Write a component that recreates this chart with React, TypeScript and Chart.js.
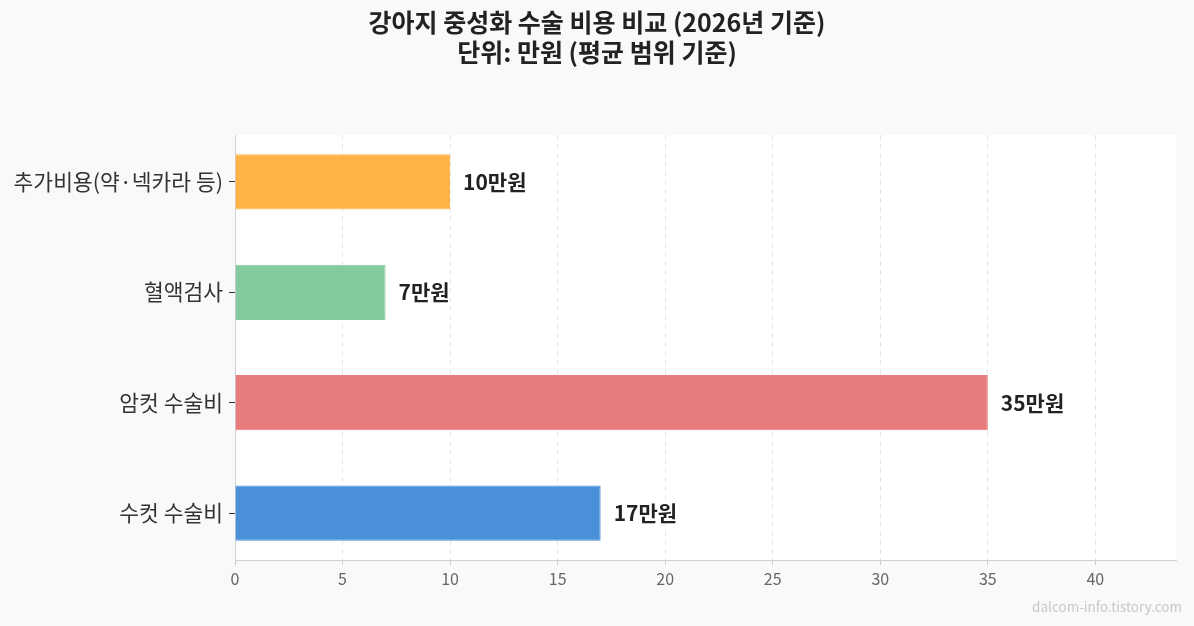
import { useEffect, useRef } from 'react'
import Chart from 'chart.js/auto'

// bottom to top, as in the picture
const categories = ['수컷 수술비', '암컷 수술비', '혈액검사', '추가비용(약·넥카라 등)']
const costs = [17, 35, 7, 10]
const barColors = ['#4A90D9', '#E87C7C', '#85C99E', '#FFB347']
const xTicks = [0, 5, 10, 15, 20, 25, 30, 35, 40]
const titleLines = ['강아지 중성화 수술 비용 비교 (2026년 기준)', '단위: 만원 (평균 범위 기준)']
const watermark = 'dalcom-info.tistory.com'

const FONT = '"Noto Sans CJK KR", "Noto Sans", sans-serif'

const decorPlugin = {
  id: 'decor',
  beforeDraw(chart: any) {
    const { ctx, chartArea, width, height } = chart
    ctx.save()
    ctx.fillStyle = '#f8f9fb'
    ctx.fillRect(0, 0, width, height)
    ctx.fillStyle = '#ffffff'
    ctx.fillRect(chartArea.left, chartArea.top, chartArea.right - chartArea.left, chartArea.bottom - chartArea.top)
    ctx.restore()
  },
  afterDraw(chart: any) {
    const { ctx, width, height } = chart
    ctx.save()
    ctx.fillStyle = '#222222'
    ctx.textAlign = 'center'
    ctx.textBaseline = 'middle'
    ctx.font = `bold 25px ${FONT}`
    ctx.fillText(titleLines[0], width / 2, 22)
    ctx.fillText(titleLines[1], width / 2, 52)

    // value labels
    const xs = chart.scales.x
    const ys = chart.scales.y
    ctx.font = `bold 21px ${FONT}`
    ctx.textAlign = 'left'
    ctx.fillStyle = '#222222'
    costs.forEach((v, i) => {
      ctx.fillText(`${v}만원`, xs.getPixelForValue(v) + 13, ys.getPixelForValue(i))
    })

    ctx.font = `13.5px ${FONT}`
    ctx.fillStyle = '#c8c8c8'
    ctx.textAlign = 'right'
    ctx.fillText(watermark, width - 12, height - 19)
    ctx.restore()
  }
}

export default function App() {
  const canvasRef = useRef<HTMLCanvasElement>(null)
  const chartInstance = useRef<Chart | null>(null)

  useEffect(() => {
    document.body.style.margin = '0'
    if (!canvasRef.current) return
    if (chartInstance.current) chartInstance.current.destroy()

    chartInstance.current = new Chart(canvasRef.current, {
      type: 'bar',
      data: {
        datasets: [
          {
            data: costs.map((v, i) => ({ x: v, y: i })) as any,
            backgroundColor: barColors,
            borderColor: barColors,
            borderWidth: 1,
            categoryPercentage: 1,
            barPercentage: 0.5
          }
        ]
      },
      options: {
        indexAxis: 'y',
        animation: false,
        responsive: false,
        layout: { padding: { top: 135, right: 18, left: 0, bottom: 0 } },
        plugins: {
          legend: { display: false },
          title: { display: false },
          tooltip: { enabled: false }
        },
        scales: {
          x: {
            type: 'linear',
            min: 0,
            max: 43.75,
            afterBuildTicks: (scale: any) => {
              scale.ticks = xTicks.map((v) => ({ value: v }))
            },
            afterFit: (scale: any) => {
              scale.height = 66
            },
            grid: {
              color: '#e6e6e6',
              lineWidth: 1,
              drawTicks: true,
              tickLength: 5,
              tickColor: '#cccccc'
            },
            border: { display: true, color: '#d0d0d0', dash: [5, 4] },
            ticks: {
              color: '#666666',
              padding: 4,
              font: { family: FONT, size: 16 }
            }
          },
          y: {
            type: 'linear',
            offset: false,
            min: -0.425,
            max: 3.425,
            afterBuildTicks: (scale: any) => {
              scale.ticks = categories.map((_, i) => ({ value: i }))
            },
            afterFit: (scale: any) => {
              scale.width = 235
            },
            grid: {
              offset: false,
              drawOnChartArea: false,
              drawTicks: true,
              tickLength: 6,
              tickColor: '#333333'
            },
            border: { display: true, color: '#d0d0d0' },
            ticks: {
              color: '#333333',
              padding: 6,
              font: { family: FONT, size: 21.5 },
              callback: (v: any) => categories[v as number] ?? ''
            }
          }
        }
      },
      plugins: [decorPlugin]
    })

    return () => {
      if (chartInstance.current) {
        chartInstance.current.destroy()
        chartInstance.current = null
      }
    }
  }, [])

  return <canvas ref={canvasRef} width={1194} height={626} style={{ display: 'block' }} />
}
